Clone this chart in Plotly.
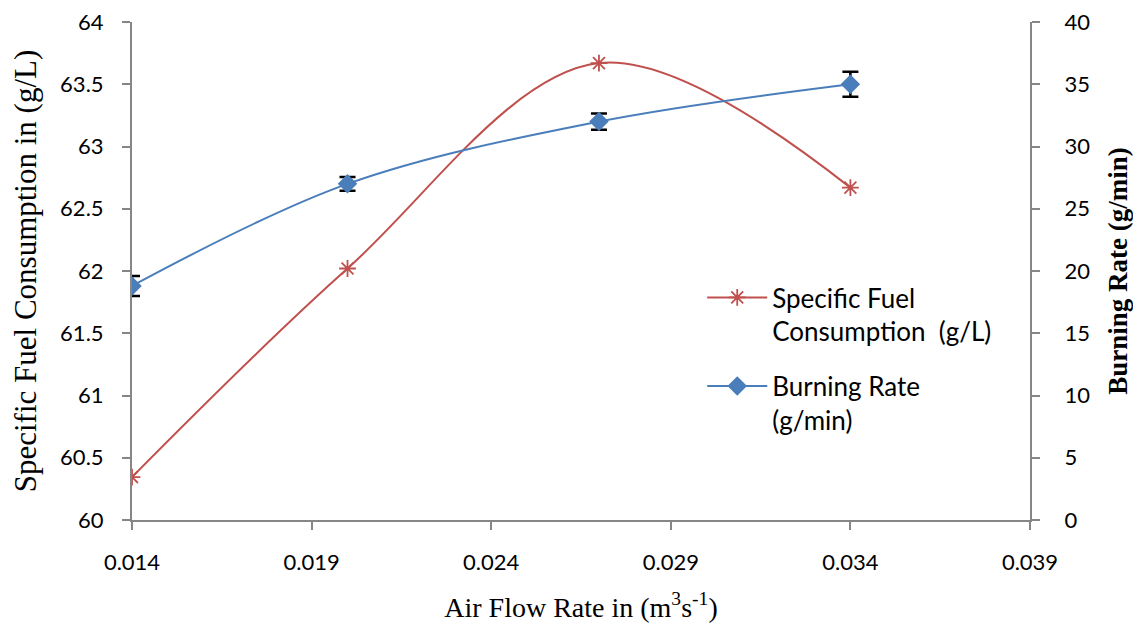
import plotly.graph_objects as go

air_flow = [0.014, 0.020, 0.027, 0.034]
sfc = [60.345, 62.02, 63.67, 62.67]
burning_rate = [18.8, 27.0, 32.0, 35.0]
burning_err = [0.8, 0.55, 0.65, 1.0]

x_ticks = [0.014, 0.019, 0.024, 0.029, 0.034, 0.039]
x_tick_labels = ["0.014", "0.019", "0.024", "0.029", "0.034", "0.039"]
left_ticks = [60, 60.5, 61, 61.5, 62, 62.5, 63, 63.5, 64]
left_tick_labels = ["60", "60.5", "61", "61.5", "62", "62.5", "63", "63.5", "64"]
right_ticks = [0, 5, 10, 15, 20, 25, 30, 35, 40]

RED = "#C0504D"
BLUE = "#4A7EBB"
GRAY = "#868686"
SANS = "Lato, Carlito, 'Liberation Sans', sans-serif"
SERIF = "'Liberation Serif', 'DejaVu Serif', serif"
TICKFONT = dict(family=SANS, size=22, color="#000")

fig = go.Figure()
fig.add_trace(go.Scatter(
    x=air_flow, y=sfc, mode="lines+markers",
    name="Specific Fuel<br>Consumption  (g/L)", legendgroup="a",
    line=dict(color=RED, width=2, shape="spline", smoothing=1),
    marker=dict(symbol="asterisk-open", size=14, line=dict(color=RED, width=1.8), color=RED),
    yaxis="y",
))
fig.add_trace(go.Scatter(
    x=air_flow, y=burning_rate, mode="lines+markers",
    name="Burning Rate<br>(g/min)", legendgroup="b",
    line=dict(color=BLUE, width=2, shape="spline", smoothing=1),
    marker=dict(symbol="diamond", size=15, color=BLUE),
    error_y=dict(type="data", array=burning_err, visible=True, color="#000", thickness=2.5, width=8),
    yaxis="y2",
))

# page body has an 8px margin: size the figure so the plot area lands at x 132..1030, y 22..520
fig.update_layout(
    width=1125, height=615,
    margin=dict(l=124, r=103, t=14, b=103),
    paper_bgcolor="white", plot_bgcolor="white",
    showlegend=True,
    legend=dict(x=0.635, y=0.494, xanchor="left", yanchor="top", valign="top",
                traceorder="grouped", tracegroupgap=18, itemwidth=60,
                font=dict(family=SANS, size=26, color="#000"),
                bgcolor="rgba(0,0,0,0)"),
    xaxis=dict(
        range=[0.014, 0.039], tickvals=x_ticks, ticktext=x_tick_labels,
        showgrid=False, zeroline=False, showline=True, linecolor=GRAY, linewidth=2,
        ticks="outside", ticklen=8, tickcolor=GRAY, tickwidth=2, automargin=False,
        ticklabelstandoff=14, ticklabeloverflow="allow", tickfont=TICKFONT,
        title=dict(text="Air Flow Rate in (m<sup>3</sup>s<sup>-1</sup>)",
                   font=dict(family=SERIF, size=28, color="#000"), standoff=36),
    ),
    yaxis=dict(
        range=[60, 64], tickvals=left_ticks, ticktext=left_tick_labels,
        showgrid=False, zeroline=False, showline=True, linecolor=GRAY, linewidth=2,
        ticks="outside", ticklen=8, tickcolor=GRAY, tickwidth=2, automargin=False,
        ticklabelstandoff=14, ticklabeloverflow="allow", tickfont=TICKFONT,
        title=dict(text="Specific Fuel Consumption in (g/L)",
                   font=dict(family=SERIF, size=31, color="#000"), standoff=14),
    ),
    yaxis2=dict(
        range=[0, 40], tickvals=right_ticks, overlaying="y", side="right",
        showgrid=False, zeroline=False, showline=True, linecolor=GRAY, linewidth=2,
        ticks="outside", ticklen=8, tickcolor=GRAY, tickwidth=2, automargin=False,
        ticklabelstandoff=20, ticklabeloverflow="allow", tickfont=TICKFONT,
        title=dict(text="<b>Burning Rate (g/min)</b>",
                   font=dict(family=SERIF, size=27, color="#000"), standoff=22),
    ),
)

fig.write_html("out.html")
